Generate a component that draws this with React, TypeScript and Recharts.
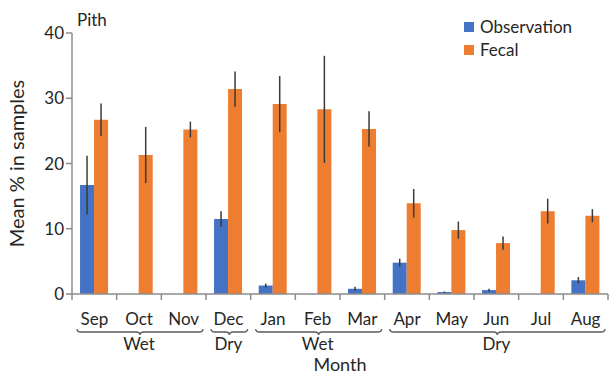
import React from "react";
import { BarChart, Bar, XAxis, YAxis, ErrorBar, Label } from "recharts";

const months = ["Sep", "Oct", "Nov", "Dec", "Jan", "Feb", "Mar", "Apr", "May", "Jun", "Jul", "Aug"];
const observation = [16.7, null, null, 11.5, 1.3, null, 0.8, 4.8, 0.3, 0.6, null, 2.1];
const observationErr = [4.5, null, null, 1.2, 0.3, null, 0.3, 0.6, 0.1, 0.2, null, 0.5];
const fecal = [26.7, 21.3, 25.2, 31.4, 29.1, 28.3, 25.3, 13.9, 9.8, 7.8, 12.7, 12.0];
const fecalErr = [2.5, 4.3, 1.2, 2.7, 4.3, 8.2, 2.7, 2.2, 1.3, 1.0, 1.9, 1.0];
const seasons = [
  { name: "Wet", start: 0, span: 3 },
  { name: "Dry", start: 3, span: 1 },
  { name: "Wet", start: 4, span: 3 },
  { name: "Dry", start: 7, span: 5 },
];
const yTicks = [0, 10, 20, 30, 40];

const data = months.map((m, i) => ({
  month: m,
  obs: observation[i],
  obsErr: observationErr[i],
  fecal: fecal[i],
  fecalErr: fecalErr[i],
}));

const W = 609;
const H = 375;
const LEFT = 72;
const RIGHT = 1;
const TOP = 33;
const BOTTOM = 81;
const BAND = (W - LEFT - RIGHT) / months.length;
const FONT = "Lato, sans-serif";
const AXIS = "#8c8c8c";
const TEXT = "#262626";
const BLUE = "#4472C4";
const ORANGE = "#ED7D31";

function brace(x1: number, x2: number, y: number) {
  const mid = (x1 + x2) / 2;
  const r = 4;
  const h = 3;
  return `M${x1},${y - h} Q${x1},${y} ${x1 + r},${y} L${mid - r},${y} Q${mid},${y} ${mid},${y + h} Q${mid},${y} ${mid + r},${y} L${x2 - r},${y} Q${x2},${y} ${x2},${y - h}`;
}

function MonthTick(props: any) {
  const { x, y, payload, index } = props;
  const left = x - BAND / 2;
  const season = seasons.find((s) => s.start === index);
  return (
    <g>
      <line x1={left} y1={y - 8} x2={left} y2={y - 2} stroke={AXIS} strokeWidth={1.5} />
      {index === months.length - 1 && (
        <line x1={left + BAND} y1={y - 8} x2={left + BAND} y2={y - 2} stroke={AXIS} strokeWidth={1.5} />
      )}
      <text x={x} y={y + 23} textAnchor="middle" fontSize={17} fill={TEXT} fontFamily={FONT}>
        {payload.value}
      </text>
      {season && (
        <g>
          <path
            d={brace(left + 5, left + season.span * BAND - 3, y + 30)}
            fill="none"
            stroke="#595959"
            strokeWidth={1.3}
          />
          <text
            x={left + (season.span * BAND) / 2}
            y={y + 48}
            textAnchor="middle"
            fontSize={17}
            fill={TEXT}
            fontFamily={FONT}
          >
            {season.name}
          </text>
        </g>
      )}
    </g>
  );
}

function LegendBox() {
  const items = [
    { name: "Observation", color: BLUE },
    { name: "Fecal", color: ORANGE },
  ];
  return (
    <div style={{ position: "absolute", left: 464, top: 15, fontFamily: FONT, fontSize: 17, color: TEXT }}>
      {items.map((it) => (
        <div key={it.name} style={{ display: "flex", alignItems: "center", height: 23 }}>
          <span style={{ width: 10, height: 10, background: it.color, marginRight: 6, display: "inline-block" }} />
          {it.name}
        </div>
      ))}
    </div>
  );
}

export default function App() {
  return (
    <div style={{ position: "absolute", left: 0, top: 0, width: W, height: H, background: "#fff" }}>
      <BarChart
        width={W}
        height={H}
        data={data}
        margin={{ top: TOP, right: RIGHT, left: 0, bottom: 0 }}
        barCategoryGap="18%"
        barGap={0}
      >
        <XAxis
          dataKey="month"
          height={BOTTOM}
          stroke={AXIS}
          strokeWidth={1.5}
          tickLine={false}
          interval={0}
          tick={<MonthTick />}
        >
          <Label
            value="Month"
            position="insideBottom"
            offset={4}
            style={{ fontSize: 18, fill: TEXT, fontFamily: FONT }}
          />
        </XAxis>
        <YAxis
          width={LEFT}
          domain={[0, 40]}
          ticks={yTicks}
          stroke={AXIS}
          strokeWidth={1.5}
          tickSize={6}
          tick={{ fontSize: 17, fill: TEXT, fontFamily: FONT }}
        >
          <Label
            value="Mean % in samples"
            angle={-90}
            position="insideLeft"
            offset={17}
            style={{ fontSize: 20, fill: TEXT, fontFamily: FONT, textAnchor: "middle" }}
          />
        </YAxis>
        <Bar dataKey="obs" fill={BLUE} isAnimationActive={false}>
          <ErrorBar dataKey="obsErr" width={0} stroke="#3a3a3a" strokeWidth={1.5} direction="y" />
        </Bar>
        <Bar dataKey="fecal" fill={ORANGE} isAnimationActive={false}>
          <ErrorBar dataKey="fecalErr" width={0} stroke="#3a3a3a" strokeWidth={1.5} direction="y" />
        </Bar>
      </BarChart>
      <div style={{ position: "absolute", left: 77, top: 9, fontFamily: FONT, fontSize: 17, color: TEXT }}>
        Pith
      </div>
      <LegendBox />
    </div>
  );
}
